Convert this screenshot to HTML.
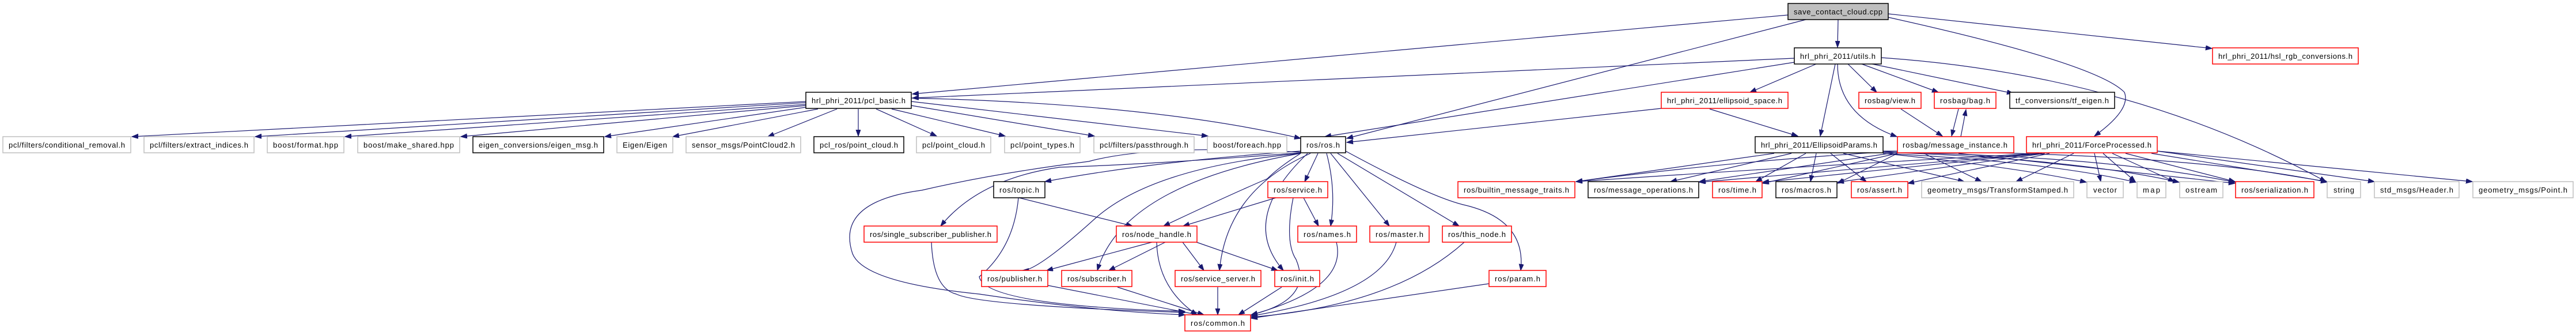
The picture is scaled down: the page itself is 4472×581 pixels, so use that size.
<!DOCTYPE html>
<html><head><meta charset="utf-8"><style>
html,body{margin:0;padding:0;background:#fff;}
svg{display:block;}
text{font-family:"Liberation Sans",sans-serif;font-size:13px;fill:#000;}
.g{fill:#fff;stroke:#bfbfbf;stroke-width:1.5;}
.r{fill:#fff;stroke:#ff0000;stroke-width:1.5;}
.b{fill:#fff;stroke:#000;stroke-width:1.5;}
.e{fill:none;stroke:#191970;stroke-width:1.2;marker-end:url(#a);}
</style></head><body>
<svg width="4472" height="581" viewBox="0 0 4472 581" xmlns="http://www.w3.org/2000/svg">
<defs><marker id="a" markerUnits="userSpaceOnUse" markerWidth="12" markerHeight="10" refX="11" refY="4" orient="auto"><path d="M0,0 L11,4 L0,8 z" fill="#191970" stroke="#191970"/></marker></defs>
<g>
<path class="e" d="M3104,26 L1584,163"/>
<path class="e" d="M3135,34 L2338,240"/>
<path class="e" d="M3191,34 L3190,82"/>
<path class="e" d="M3278,30 Q3640,110 3688,160 Q3700,190 3636,236"/>
<path class="e" d="M3278,24 L3840,84"/>
<path class="e" d="M3115,101 L1584,170"/>
<path class="e" d="M3115,108 L2300,237"/>
<path class="e" d="M3153,111 L3038,160"/>
<path class="e" d="M3186,111 L3160,236"/>
<path class="e" d="M3190,111 Q3190,200 3293,237"/>
<path class="e" d="M3208,111 L3258,160"/>
<path class="e" d="M3232,111 L3365,160"/>
<path class="e" d="M3250,111 L3495,162"/>
<path class="e" d="M3266,100 Q3700,130 4038,315"/>
<path class="e" d="M1399,176 L229,237"/>
<path class="e" d="M1399,178 L443,237"/>
<path class="e" d="M1399,181 L599,237"/>
<path class="e" d="M1399,183 L800,237"/>
<path class="e" d="M1399,186 L1050,237"/>
<path class="e" d="M1420,189 L1168,237"/>
<path class="e" d="M1453,189 L1333,237"/>
<path class="e" d="M1490,189 L1490,236"/>
<path class="e" d="M1521,189 L1626,236"/>
<path class="e" d="M1548,189 L1745,236"/>
<path class="e" d="M1582,183 L1900,236"/>
<path class="e" d="M1582,176 L2097,236"/>
<path class="e" d="M1582,170 Q2000,180 2258,240"/>
<path class="e" d="M2884,188 L2338,247"/>
<path class="e" d="M2968,189 L3121,236"/>
<path class="e" d="M3300,189 L3372,236"/>
<path class="e" d="M3400,189 L3388,236"/>
<path class="e" d="M3404,237 L3413,190"/>
<path class="e" d="M3080,266 L2736,315"/>
<path class="e" d="M3110,266 L2900,315"/>
<path class="e" d="M3135,266 L3048,315"/>
<path class="e" d="M3153,266 L3143,315"/>
<path class="e" d="M3178,266 L3240,315"/>
<path class="e" d="M3200,266 L3410,315"/>
<path class="e" d="M3269,266 Q3500,290 3622,316"/>
<path class="e" d="M3269,266 Q3550,280 3708,316"/>
<path class="e" d="M3269,264 Q3600,275 3783,316"/>
<path class="e" d="M3269,264 Q3650,270 3880,316"/>
<path class="e" d="M3269,262 Q3800,265 4040,316"/>
<path class="e" d="M3294,262 Q3000,280 2736,315"/>
<path class="e" d="M3294,264 L2950,315"/>
<path class="e" d="M3294,266 L3060,318"/>
<path class="e" d="M3294,266 L3190,318"/>
<path class="e" d="M3340,266 L3440,315"/>
<path class="e" d="M3400,266 L3880,318"/>
<path class="e" d="M3540,266 Q3100,290 2736,315"/>
<path class="e" d="M3540,266 L2950,316"/>
<path class="e" d="M3545,266 L3060,316"/>
<path class="e" d="M3550,266 L3190,316"/>
<path class="e" d="M3558,266 L3312,318"/>
<path class="e" d="M3600,266 L3500,315"/>
<path class="e" d="M3636,266 L3647,315"/>
<path class="e" d="M3651,266 L3707,315"/>
<path class="e" d="M3667,266 L3775,315"/>
<path class="e" d="M3690,266 L3880,315"/>
<path class="e" d="M3735,266 L4040,315"/>
<path class="e" d="M3745,262 L4122,315"/>
<path class="e" d="M3745,262 L4292,315"/>
<path class="e" d="M2288,266 L2265,315"/>
<path class="e" d="M2303,266 Q2320,330 2310,392"/>
<path class="e" d="M2310,266 L2412,392"/>
<path class="e" d="M2322,266 L2533,392"/>
<path class="e" d="M2336,262 Q2480,340 2540,355 Q2650,380 2640,469"/>
<path class="e" d="M2258,262 Q2000,280 1814,315"/>
<path class="e" d="M2258,265 Q2000,285 1840,290 Q1700,310 1633,392"/>
<path class="e" d="M2258,266 Q2220,290 2200,310 Q2130,340 2020,392"/>
<path class="e" d="M2258,266 Q2000,290 1900,380 Q1800,470 1775,469"/>
<path class="e" d="M2258,266 Q1950,320 1905,469"/>
<path class="e" d="M2275,266 Q2130,330 2117,469"/>
<path class="e" d="M2270,266 Q2150,380 2228,469"/>
<path class="e" d="M2258,264 Q2000,250 1890,280 Q1730,300 1600,330 Q1450,350 1480,440 Q1500,490 1700,510 Q1900,540 2057,546"/>
<path class="e" d="M1769,343 L1966,392"/>
<path class="e" d="M1768,343 Q1760,430 1700,480 Q1710,530 2057,540"/>
<path class="e" d="M2215,343 L2054,392"/>
<path class="e" d="M2263,343 L2289,392"/>
<path class="e" d="M2245,343 Q2230,420 2250,450 Q2280,520 2172,546"/>
<path class="e" d="M1617,420 Q1620,500 1660,510 Q1700,530 2057,542"/>
<path class="e" d="M2000,420 L1817,469"/>
<path class="e" d="M2023,420 L1925,469"/>
<path class="e" d="M2008,420 Q2010,500 2078,546"/>
<path class="e" d="M2053,420 L2090,469"/>
<path class="e" d="M2077,420 L2218,469"/>
<path class="e" d="M1819,495 L2080,546"/>
<path class="e" d="M1940,498 L2090,546"/>
<path class="e" d="M2114,498 L2114,546"/>
<path class="e" d="M2225,498 L2150,546"/>
<path class="e" d="M2320,420 Q2340,500 2172,546"/>
<path class="e" d="M2424,420 Q2400,510 2172,548"/>
<path class="e" d="M2542,420 Q2420,530 2172,550"/>
<path class="e" d="M2585,492 L2172,552"/>
</g>
<g>
<rect x="3104" y="6" width="174" height="28" fill="#bfbfbf" stroke="#000" stroke-width="1.5"/><text x="3114" y="25" textLength="154">save_contact_cloud.cpp</text>
<rect class="b" x="3115" y="83" width="151" height="28"/><text x="3125" y="102" textLength="131">hrl_phri_2011/utils.h</text>
<rect class="r" x="3841" y="83" width="253" height="28"/><text x="3851" y="102" textLength="233">hrl_phri_2011/hsl_rgb_conversions.h</text>
<rect class="b" x="1399" y="160" width="183" height="28"/><text x="1409" y="179" textLength="163">hrl_phri_2011/pcl_basic.h</text>
<rect class="r" x="2884" y="160" width="220" height="28"/><text x="2894" y="179" textLength="200">hrl_phri_2011/ellipsoid_space.h</text>
<rect class="r" x="3227" y="160" width="108" height="28"/><text x="3237" y="179" textLength="88">rosbag/view.h</text>
<rect class="r" x="3358" y="160" width="107" height="28"/><text x="3368" y="179" textLength="87">rosbag/bag.h</text>
<rect class="b" x="3489" y="160" width="182" height="28"/><text x="3499" y="179" textLength="162">tf_conversions/tf_eigen.h</text>

<rect class="g" x="5" y="237" width="222" height="28"/><text x="15" y="256" textLength="202">pcl/filters/conditional_removal.h</text>
<rect class="g" x="250" y="237" width="191" height="28"/><text x="260" y="256" textLength="171">pcl/filters/extract_indices.h</text>
<rect class="g" x="464" y="237" width="133" height="28"/><text x="474" y="256" textLength="113">boost/format.hpp</text>
<rect class="g" x="621" y="237" width="177" height="28"/><text x="631" y="256" textLength="157">boost/make_shared.hpp</text>
<rect class="b" x="821" y="237" width="227" height="28"/><text x="831" y="256" textLength="207">eigen_conversions/eigen_msg.h</text>
<rect class="g" x="1071" y="237" width="97" height="28"/><text x="1081" y="256" textLength="77">Eigen/Eigen</text>
<rect class="g" x="1191" y="237" width="199" height="28"/><text x="1201" y="256" textLength="179">sensor_msgs/PointCloud2.h</text>
<rect class="b" x="1413" y="237" width="156" height="28"/><text x="1423" y="256" textLength="136">pcl_ros/point_cloud.h</text>
<rect class="g" x="1591" y="237" width="129" height="28"/><text x="1601" y="256" textLength="109">pcl/point_cloud.h</text>
<rect class="g" x="1744" y="237" width="131" height="28"/><text x="1754" y="256" textLength="111">pcl/point_types.h</text>
<rect class="g" x="1899" y="237" width="174" height="28"/><text x="1909" y="256" textLength="154">pcl/filters/passthrough.h</text>
<rect class="g" x="2096" y="237" width="138" height="28"/><text x="2106" y="256" textLength="118">boost/foreach.hpp</text>
<rect class="b" x="2258" y="237" width="78" height="28"/><text x="2268" y="256" textLength="58">ros/ros.h</text>
<rect class="b" x="3047" y="237" width="222" height="28"/><text x="3057" y="256" textLength="202">hrl_phri_2011/EllipsoidParams.h</text>
<rect class="r" x="3294" y="237" width="202" height="28"/><text x="3303" y="256" textLength="182">rosbag/message_instance.h</text>
<rect class="r" x="3518" y="237" width="227" height="28"/><text x="3528" y="256" textLength="207">hrl_phri_2011/ForceProcessed.h</text>

<rect class="b" x="1725" y="315" width="89" height="28"/><text x="1735" y="334" textLength="69">ros/topic.h</text>
<rect class="r" x="2201" y="315" width="104" height="28"/><text x="2211" y="334" textLength="84">ros/service.h</text>
<rect class="r" x="2531" y="315" width="203" height="28"/><text x="2541" y="334" textLength="183">ros/builtin_message_traits.h</text>
<rect class="b" x="2757" y="315" width="192" height="28"/><text x="2767" y="334" textLength="172">ros/message_operations.h</text>
<rect class="r" x="2973" y="315" width="86" height="28"/><text x="2983" y="334" textLength="66">ros/time.h</text>
<rect class="b" x="3083" y="315" width="106" height="28"/><text x="3093" y="334" textLength="86">ros/macros.h</text>
<rect class="r" x="3214" y="315" width="98" height="28"/><text x="3224" y="334" textLength="78">ros/assert.h</text>
<rect class="g" x="3336" y="315" width="264" height="28"/><text x="3346" y="334" textLength="244">geometry_msgs/TransformStamped.h</text>
<rect class="g" x="3623" y="315" width="63" height="28"/><text x="3634" y="334" textLength="41">vector</text>
<rect class="g" x="3710" y="315" width="50" height="28"/><text x="3720" y="334" textLength="30">map</text>
<rect class="g" x="3784" y="315" width="75" height="28"/><text x="3794" y="334" textLength="55">ostream</text>
<rect class="r" x="3881" y="315" width="136" height="28"/><text x="3891" y="334" textLength="116">ros/serialization.h</text>
<rect class="g" x="4040" y="315" width="58" height="28"/><text x="4051" y="334" textLength="36">string</text>
<rect class="g" x="4122" y="315" width="147" height="28"/><text x="4132" y="334" textLength="127">std_msgs/Header.h</text>
<rect class="g" x="4293" y="315" width="174" height="28"/><text x="4303" y="334" textLength="154">geometry_msgs/Point.h</text>

<rect class="r" x="1500" y="392" width="231" height="28"/><text x="1510" y="411" textLength="211">ros/single_subscriber_publisher.h</text>
<rect class="r" x="1938" y="392" width="140" height="28"/><text x="1948" y="411" textLength="120">ros/node_handle.h</text>
<rect class="r" x="2253" y="392" width="102" height="28"/><text x="2263" y="411" textLength="82">ros/names.h</text>
<rect class="r" x="2378" y="392" width="103" height="28"/><text x="2388" y="411" textLength="83">ros/master.h</text>
<rect class="r" x="2504" y="392" width="120" height="28"/><text x="2514" y="411" textLength="100">ros/this_node.h</text>

<rect class="r" x="1704" y="469" width="115" height="28"/><text x="1714" y="488" textLength="95">ros/publisher.h</text>
<rect class="r" x="1843" y="469" width="122" height="28"/><text x="1853" y="488" textLength="102">ros/subscriber.h</text>
<rect class="r" x="2040" y="469" width="149" height="28"/><text x="2050" y="488" textLength="129">ros/service_server.h</text>
<rect class="r" x="2213" y="469" width="78" height="28"/><text x="2223" y="488" textLength="58">ros/init.h</text>
<rect class="r" x="2585" y="469" width="99" height="28"/><text x="2595" y="488" textLength="79">ros/param.h</text>

<rect class="r" x="2057" y="546" width="114" height="28"/><text x="2067" y="565" textLength="94">ros/common.h</text>
</g>
</svg>
</body></html>
